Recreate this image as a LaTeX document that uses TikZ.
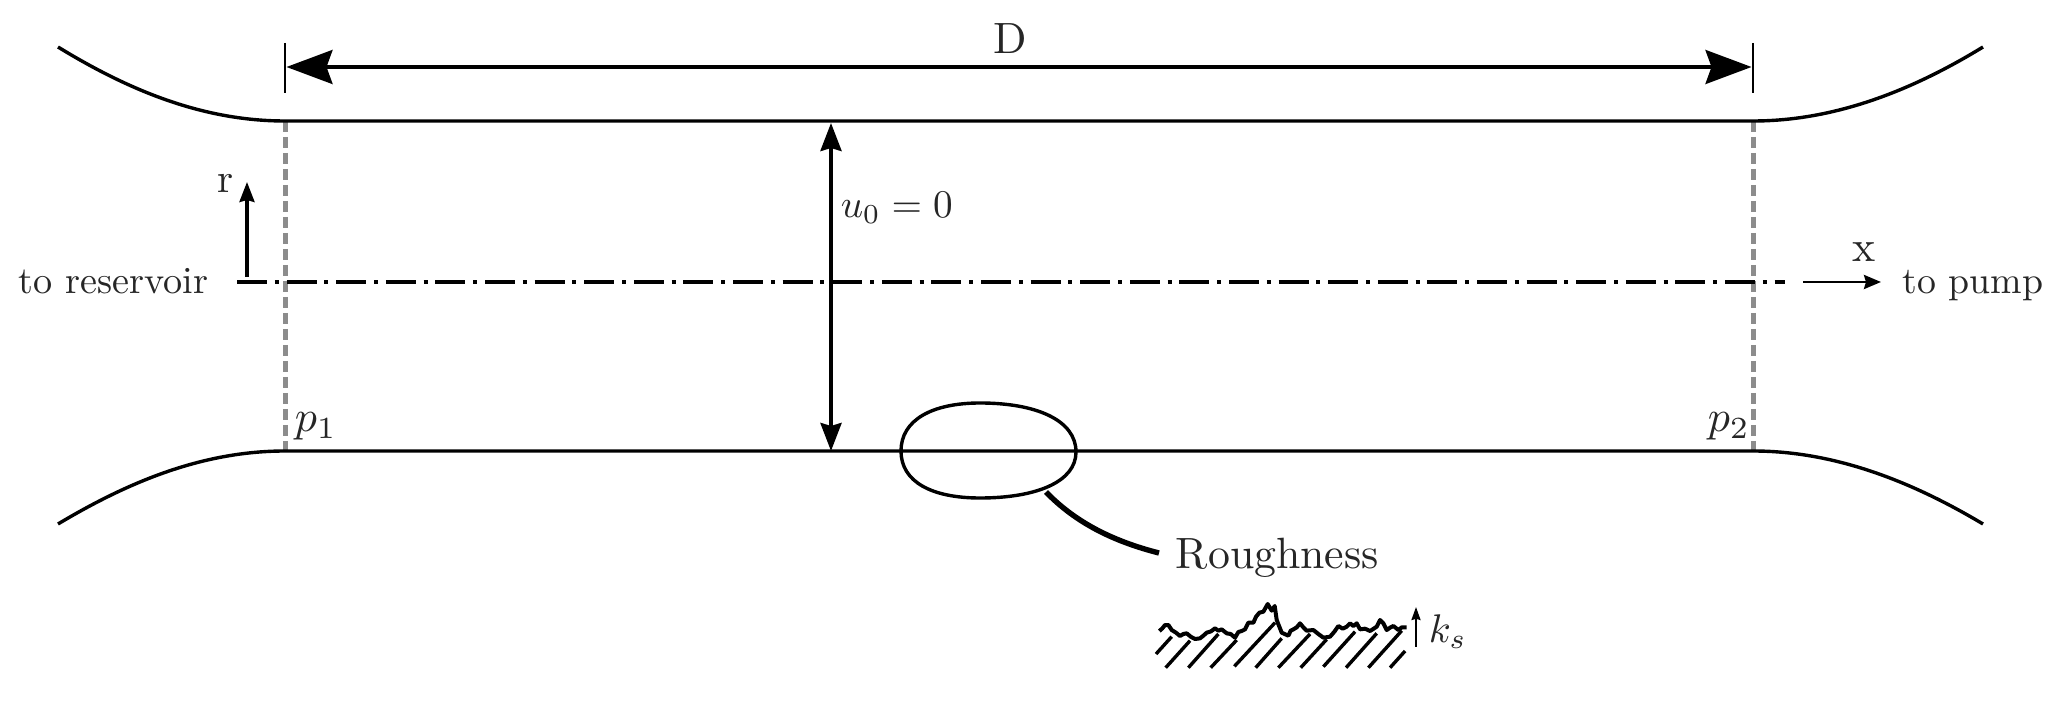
\documentclass[tikz,border=0pt]{standalone}
\usetikzlibrary{arrows.meta}
\begin{document}
\begin{tikzpicture}[x=0.5pt,y=-0.5pt,
  wall/.style={line width=1.7pt,line cap=butt},
  bigdim/.style={line width=1.7pt,{Stealth[length=23pt,width=17pt,inset=3pt]}-{Stealth[length=23pt,width=17pt,inset=3pt]}},
  tick/.style={line width=1.1pt},
  sect/.style={line width=2.5pt,color=black!45,dash pattern=on 5.5pt off 2.5pt},
  axis/.style={line width=1.65pt,dash pattern=on 15pt off 3.9pt on 2pt off 3.9pt},
  dbl/.style={line width=1.9pt,{Stealth[length=14pt,width=10.5pt,inset=1.5pt]}-{Stealth[length=14pt,width=10.5pt,inset=1.5pt]}},
  rarrow/.style={line width=1.6pt,-{Stealth[length=10pt,width=7.5pt,inset=1pt]}},
  xarrow/.style={line width=1.4pt,-{Stealth[length=8.5pt,width=7pt,inset=1pt]}},
  karrow/.style={line width=1pt,-{Stealth[length=6.5pt,width=4.5pt,inset=0.6pt]}},
  lab/.style={scale=#1,transform shape,anchor=base west,inner sep=0pt,text=black!85},
  rough/.style={line width=2pt,line join=round},
  hatch/.style={line width=1.7pt},
  leader/.style={line width=2.7pt},
  oval/.style={line width=1.7pt}]
\useasboundingbox (0,0) rectangle (2058,716);
% named points
\coordinate (TL) at (285,121); \coordinate (TR) at (1753,121);
\coordinate (BL) at (285,451); \coordinate (BR) at (1753,451);
\coordinate (TLend) at (58,47); \coordinate (TRend) at (1983,47);
\coordinate (BLend) at (58,524); \coordinate (BRend) at (1983,524);
\coordinate (tick1a) at (285,43); \coordinate (tick1b) at (285,93);
\coordinate (tick2a) at (1753,43); \coordinate (tick2b) at (1753,93);
\coordinate (dimL) at (286.5,67); \coordinate (dimR) at (1751.5,67);
\coordinate (axL) at (237,282); \coordinate (axR) at (1785,282);
\coordinate (rA) at (247,277); \coordinate (rB) at (247,182);
\coordinate (xA) at (1803,282); \coordinate (xB) at (1881,282);
\coordinate (uT) at (831,123); \coordinate (uB) at (831,451);
\coordinate (ldA) at (1046,492); \coordinate (ldB) at (1159,553);
\coordinate (kA) at (1416,647); \coordinate (kB) at (1416,607);
% section lines
\draw[sect] (TL) -- (BL);
\draw[sect] (TR) -- (BR);
% walls
\draw[wall] (TLend) .. controls (125,88) and (200,121) .. (TL) -- (TR) .. controls (1838,121) and (1916,88) .. (TRend);
\draw[wall] (BLend) .. controls (125,484) and (200,451) .. (BL) -- (BR) .. controls (1838,451) and (1916,484) .. (BRend);
% dimension
\draw[tick] (tick1a) -- (tick1b);
\draw[tick] (tick2a) -- (tick2b);
\draw[bigdim] (dimL) -- (dimR);
% axis
\draw[axis] (axL) -- (axR);
\draw[rarrow] (rA) -- (rB);
\draw[xarrow] (xA) -- (xB);
\draw[dbl] (uT) -- (uB);
% oval
\draw[oval] (901,451) .. controls (901,420) and (932,403) .. (980,403)
  .. controls (1036,403) and (1076,420) .. (1076,452)
  .. controls (1076,482) and (1036,498) .. (980,498)
  .. controls (932,498) and (901,482) .. (901,451) -- cycle;
\draw[leader] (ldA) .. controls (1075,522) and (1112,541) .. (ldB);
% roughness profile
\begin{scope}[shift={(1100,570)},x=0.1667pt,y=-0.1667pt]
\foreach \a/\b/\c/\d in {168/252/215/200,197/293/270/212,265/293/355/192,332/293/410/210,403/289/525/158,467/293/545/205,535/293/630/192,602/293/680/208,670/290/765/185,738/293/830/190,805/293/905/182,870/293/915/243}
  \draw[hatch] (\a,\b) -- (\c,\d);
\draw[rough] (178,183)--(187,175)--(195,165)--(205,165)--(215,180)--(228,188)--(240,198)--(250,192)--(260,190)--(272,200)--(285,207)--(300,205)--(310,197)--(320,188)--(333,184)--(345,175)--(355,182)--(365,178)--(380,190)--(392,192)--(405,203)--(415,186)--(425,183)--(435,178)--(445,158)--(460,158)--(468,140)--(478,128)--(490,125)--(503,102)--(515,122)--(524,108)--(530,150)--(545,188)--(565,197)--(572,182)--(580,178)--(590,172)--(600,160)--(610,172)--(620,182)--(640,180)--(655,192)--(670,203)--(690,200)--(703,185)--(715,168)--(728,176)--(740,170)--(750,160)--(760,168)--(770,160)--(780,178)--(795,176)--(810,183)--(830,170)--(840,150)--(850,160)--(860,180)--(870,173)--(880,168)--(895,180)--(905,172)--(920,172);
\end{scope}
\draw[karrow] (kA) -- (kB);
% labels
\node[lab=2.19,anchor=base] (lD) at (1010.5,54) {D};
\node[lab=2.05] (lr) at (217,193) {r};
\node[lab=1.91] (lres) at (18,294) {to reservoir};
\node[lab=1.96] (lu) at (840,218) {$u_0=0$};
\node[lab=2.19] (lx) at (1852,262) {x};
\node[lab=1.89] (lpump) at (1902,294) {to pump};
\node[lab=2.2] (lp1) at (294,432) {$p_1$};
\node[lab=2.2] (lp2) at (1707,432) {$p_2$};
\node[lab=2.19] (lrough) at (1175,568.5) {Roughness};
\node[lab=2.0] (lk) at (1428,643) {$k_s$};
\end{tikzpicture}
\end{document}
